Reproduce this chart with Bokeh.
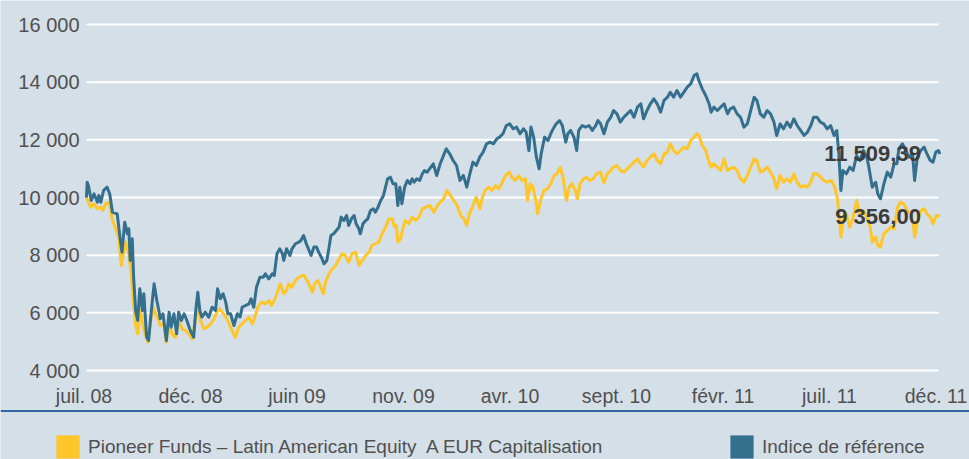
from bokeh.plotting import figure
from bokeh.models import Range1d, Legend, LegendItem, Span
from bokeh.embed import file_html
from bokeh.resources import INLINE
from bokeh.core.properties import value

# ---------------- data (x = days since 1 July 2008) ----------------
index_day = [
    0, 1, 3, 7, 11, 16, 18, 21, 25, 30,
    34, 38, 45, 49, 52, 56, 60, 62, 64, 67,
    69, 72, 75, 78, 82, 84, 88, 91, 95, 99,
    103, 106, 108, 112, 117, 121, 124, 128, 132, 135,
    139, 143, 147, 152, 157, 160, 163, 166, 169, 174,
    179, 184, 189, 192, 196, 200, 204, 207, 211, 216,
    221, 225, 228, 233, 238, 241, 245, 249, 254,
    259, 262, 267, 272, 275, 279, 283, 287, 289, 293,
    298, 301, 306, 311, 314, 318, 322, 326, 329, 333,
    337, 340, 344, 348, 352, 355, 358, 362, 366, 370,
    373, 377, 381, 384, 388, 392, 395, 399, 401, 405,
    409, 412, 416, 420, 423, 427, 431, 435, 438, 441,
    445, 449, 453, 456, 459, 462, 466, 470, 474, 477,
    480, 484, 488, 492, 495, 499,
    508, 513, 518, 522, 527, 532, 537, 542, 547, 552,
    557, 561, 566, 571, 576, 581, 586, 591, 596, 601,
    605, 610, 615, 620, 625, 630, 635, 640, 644, 648,
    651, 655, 659, 663, 666, 671, 676, 681, 685, 688,
    693, 697, 702, 705, 709, 714, 718, 721, 726, 731,
    736, 741, 746, 749, 753,
    758, 763, 768, 772, 777, 782, 787, 792, 797, 802,
    807, 812, 816, 821, 826, 831, 836, 841, 846, 851,
    855, 860, 865, 870, 875, 880, 885, 890, 894, 897,
    902, 907, 912, 915, 919, 924, 929, 934, 939, 943,
    948, 953, 958, 963, 968, 973, 978, 982, 987, 992,
    997, 1002,
    1007, 1011, 1016, 1021, 1026, 1031, 1036, 1041, 1046, 1051,
    1056, 1061, 1065, 1070, 1075, 1080, 1085, 1090, 1095, 1099,
    1102, 1105, 1108, 1113, 1118, 1123, 1128, 1133, 1138, 1143,
    1146, 1151, 1156, 1159, 1163, 1168, 1173, 1178, 1183, 1187,
    1190, 1195, 1200, 1205, 1210, 1213, 1217, 1222, 1227, 1231,
    1236, 1240, 1244, 1248, 1250,
]
index_val = [
    10000, 10531, 10400, 9896, 10128, 9837, 10070, 9837, 10243, 10358,
    10128, 9491, 9434, 8625, 8105, 9144, 8741, 8914, 7816, 8568,
    7237, 6082, 5735, 6834, 6082, 6661, 5156, 5041, 6082, 7005,
    6429, 6082, 5794, 5967, 5041, 6024, 5503, 5967, 5273, 6024,
    5735, 5967, 5735, 5388, 5156, 6082, 6717, 6082, 5850, 6024,
    5850, 6196, 6082, 6834, 6487, 6661, 6371, 5967, 5967, 5561,
    5967, 5850, 6196, 6255, 6312, 6487, 6196, 6890, 7237,
    7237, 7353, 7180, 7353, 7295, 8048, 8221, 8048, 7816, 8221,
    7990, 8221, 8395, 8453, 8509, 8683, 8395, 8163, 7990, 8279,
    8279, 8105, 7930, 7700, 7816, 8221, 8683, 8741, 8856, 8972,
    9319, 9203, 9376, 9030, 9261, 9376, 9088, 8914, 8741, 9088,
    9203, 9261, 9549, 9607, 9491, 9665, 9896, 10070, 10358, 10649,
    10705, 10476, 10476, 9723, 10358, 9781, 10358, 10590, 10476, 10649,
    10533, 10649, 10590, 10822, 10937, 10879,
    11168, 10763, 11168, 11398, 11689, 11516, 11284, 11110, 10590, 10765,
    10358, 10765, 11226, 11110, 11398, 11573, 11863, 11920, 11863, 12036,
    12094, 12210, 12497, 12556, 12382, 12441, 12210, 12382, 12267, 11630,
    12441, 12094, 11398, 10996, 11516, 12094, 11978, 12267, 12441, 12556,
    12671, 12497, 11920, 12210, 12325, 12094, 11630, 12325, 12497, 12441,
    12497, 12325, 12497, 12671, 12556,
    12210, 12613, 12785, 13018, 12902, 12613, 12785, 12902, 13018, 12785,
    13133, 13250, 12729, 13018, 13250, 13423, 13250, 12960, 13366, 13480,
    13652, 13480, 13711, 13480, 13652, 13826, 13943, 14231, 14290, 14057,
    13769, 13538, 13250, 12960, 13133, 13018, 13133, 13250, 12902, 13075,
    13133, 12902, 12785, 12439, 12556, 13018, 13480, 13366, 12902, 12785,
    13018, 12902,
    12612, 12150, 12555, 12380, 12612, 12438, 12730, 12497, 12325, 12150,
    12267, 12497, 12786, 12786, 12612, 12555, 12380, 12497, 12150, 12325,
    11516, 10243, 10937, 10822, 11052, 10937, 11457, 11284, 11630, 11400,
    11052, 10358, 10530, 10128, 9955, 10476, 10880, 10705, 11168, 11168,
    11689, 11863, 11630, 11400, 11516, 10590, 11400, 11630, 11746, 11516,
    11284, 11226, 11573, 11630, 11509.39,
]

fund_day = [
    0, 6, 11, 16, 21, 24, 28, 33, 38, 42,
    47, 51, 54, 57, 62, 65, 69, 72, 75, 79,
    83, 86, 90, 94, 98, 101, 104, 108, 113, 117,
    121, 125, 130, 135, 140, 145, 150, 155, 160, 163,
    167, 172, 177, 182, 187, 191, 195, 199, 204, 208,
    213, 218, 223, 228, 233, 238, 243, 248, 251, 254,
    257, 262, 267, 271, 275, 279, 284, 289, 293, 296,
    301, 306, 311, 316, 319, 323, 328, 331, 334, 339,
    343, 347, 350, 355, 360, 365, 370, 374, 379, 384,
    389, 394, 399, 404, 409, 414, 418, 423, 428, 433,
    438, 443, 448, 451, 454, 456, 460, 464, 467, 472,
    477, 482, 487, 492, 497, 503,
    509, 514, 518, 523, 528, 533, 538, 543, 548, 553,
    557, 561, 566, 571, 576, 580, 584, 589, 594, 599,
    604, 609, 614, 619, 623, 628, 633, 638, 643, 646,
    650, 654, 658, 661, 665, 670, 675, 680, 685, 689,
    694, 698, 703, 707, 711, 716, 719, 723, 728, 732,
    737, 742, 747, 753,
    758, 763, 768, 772, 777, 782, 787, 792, 797, 802,
    807, 812, 816, 821, 826, 831, 836, 841, 846, 851,
    855, 860, 865, 870, 875, 880, 885, 890, 894, 897,
    902, 907, 912, 915, 919, 924, 929, 934, 939, 943,
    948, 953, 958, 963, 968, 973, 978, 982, 987, 992,
    997, 1002,
    1006, 1011, 1016, 1021, 1026, 1031, 1036, 1041, 1046, 1051,
    1056, 1061, 1065, 1070, 1075, 1080, 1085, 1091, 1096, 1100,
    1103, 1105, 1108, 1113, 1118, 1123, 1128, 1133, 1138, 1143,
    1148, 1151, 1156, 1159, 1163, 1168, 1173, 1178, 1183, 1188,
    1192, 1197, 1202, 1207, 1211, 1213, 1217, 1222, 1227, 1231,
    1236, 1240, 1245, 1250,
]
fund_val = [
    10000, 9665, 9780, 9607, 9665, 9549, 9780, 9837, 9203, 8972,
    8625, 7642, 8048, 8451, 8048, 7469, 6313, 5561, 5273, 6082,
    5503, 5273, 4983, 5735, 6196, 5967, 5850, 5561, 5619, 4983,
    5735, 5273, 5156, 5735, 5445, 5388, 5273, 5099, 5850, 6140,
    5735, 5445, 5503, 5619, 5794, 6024, 6140, 6024, 5850, 5677,
    5388, 5156, 5503, 5619, 5735, 5850, 5619, 5967, 6196, 6312,
    6371, 6312, 6429, 6255, 6429, 6661, 7008, 6661, 6775, 7008,
    6890, 7122, 7237, 7295, 7295, 7122, 6890, 6718, 7008, 7122,
    6890, 6661, 7065, 7353, 7527, 7642, 7874, 8048, 7990, 7757,
    8048, 8105, 7642, 7816, 7990, 8105, 8337, 8395, 8453, 8741,
    8972, 9261, 9261, 8972, 9030, 8453, 8567, 8972, 9203, 9088,
    9319, 9203, 9319, 9607, 9665, 9723,
    9491, 9723, 9838, 9954, 10243, 10070, 9896, 9723, 9376, 9260,
    9030, 9434, 9723, 10011, 9607, 10011, 10243, 10358, 10243, 10417,
    10301, 10531, 10763, 10880, 10705, 10590, 10763, 10590, 10649, 9896,
    10476, 10358, 9896, 9434, 9896, 10243, 10301, 10476, 10763, 10822,
    11052, 10705, 9896, 10358, 10476, 10243, 9954, 10476, 10649, 10705,
    10590, 10649, 10822, 10880,
    10500, 10822, 10937, 11052, 11110, 10937, 10880, 10995, 11110, 11226,
    11341, 11168, 11052, 11284, 11398, 11516, 11284, 11168, 11516, 11573,
    11863, 11630, 11516, 11630, 11746, 11689, 11977, 12094, 12210, 12152,
    11804, 11630, 11226, 11052, 11168, 11052, 10937, 11341, 10937, 10995,
    11052, 10937, 10649, 10533, 10765, 11052, 11341, 11284, 10880, 10937,
    11052, 10880,
    10705, 10302, 10765, 10530, 10650, 10530, 10822, 10530, 10358, 10417,
    10358, 10530, 10822, 10822, 10705, 10590, 10530, 10590, 10358, 9955,
    9203, 8625, 9203, 9435, 8972, 9320, 9896, 9435, 9550, 9320,
    8972, 8451, 8625, 8336, 8278, 8740, 8856, 8972, 8915, 9665,
    9838, 9780, 9550, 9435, 9088, 8625, 9145, 9550, 9608, 9435,
    9320, 9088, 9377, 9356.00,
]

month_ticks = [0, 156, 312, 468, 624, 780, 936, 1092, 1248]
month_labels = ["juil. 08", "déc. 08", "juin 09", "nov. 09", "avr. 10",
                "sept. 10", "févr. 11", "juil. 11", "déc. 11"]
value_ticks = [4000, 6000, 8000, 10000, 12000, 14000, 16000]

fund_name = "Pioneer Funds – Latin American Equity  A EUR Capitalisation"
index_name = "Indice de référence"

# ---------------- styles / geometry ----------------
BG = "#d5dfe7"
FUND_COLOR = "#ffc629"
INDEX_COLOR = "#356f8e"
RULE_COLOR = "#2e6aa1"
TEXT_COLOR = "#505050"
FONT = "Liberation Sans"
W, H = 969, 459

# pixel geometry of the chart area (the whole canvas is the frame)
GRID_LEFT, GRID_RIGHT = 86, 938       # x of first / last month tick
GRID_TOP, GRID_BOTTOM = 24, 370       # y of top / bottom value tick
px_per_day = (GRID_RIGHT - GRID_LEFT) / (month_ticks[-1] - month_ticks[0])
px_per_unit = (GRID_BOTTOM - GRID_TOP) / (value_ticks[-1] - value_ticks[0])
x_start = month_ticks[0] - GRID_LEFT / px_per_day
x_end = month_ticks[-1] + (W - GRID_RIGHT) / px_per_day
y_end = value_ticks[-1] + GRID_TOP / px_per_unit
y_start = value_ticks[0] - (H - GRID_BOTTOM) / px_per_unit
rule_y = value_ticks[0] - (410.5 - GRID_BOTTOM) / px_per_unit


def fr_number(v):
    return f"{v:,.2f}".replace(",", " ").replace(".", ",")


p = figure(width=W, height=H, output_backend="svg", toolbar_location=None,
           x_range=Range1d(x_start, x_end), y_range=Range1d(y_start, y_end),
           x_axis_type=None, y_axis_type=None, min_border=0,
           background_fill_color=BG, border_fill_color=BG,
           outline_line_color=None)
p.grid.visible = False

# horizontal grid lines between first and last month
n = len(value_ticks)
p.segment(x0=[month_ticks[0]] * n, x1=[month_ticks[-1]] * n,
          y0=value_ticks, y1=value_ticks, line_color="white", line_width=2)

# value tick labels (left of the first month)
p.text(x=[month_ticks[0]] * n, y=value_ticks,
       text=[f"{t:,}".replace(",", " ") for t in value_ticks],
       text_font=value(FONT), text_font_size="20px", text_color=TEXT_COLOR,
       text_align="right", text_baseline="middle", x_offset=-7)

# month tick labels (below the lowest grid line)
m = len(month_ticks)
p.text(x=month_ticks, y=[value_ticks[0]] * m, text=month_labels,
       text_font=value(FONT), text_font_size="19.5px", text_color=TEXT_COLOR,
       text_align="center", text_baseline="middle", x_offset=-2.5,
       y_offset=25)

# series
p.line(fund_day, fund_val, line_color=FUND_COLOR, line_width=3, line_join="round")
p.line(index_day, index_val, line_color=INDEX_COLOR, line_width=3, line_join="round")

# end values
p.text(x=[index_day[-1], fund_day[-1]], y=[index_val[-1], fund_val[-1]],
       text=[fr_number(index_val[-1]), fr_number(fund_val[-1])],
       text_font=value(FONT), text_font_style="bold", text_font_size="22px",
       text_color="#3c3c3c", text_align="right", text_baseline="middle",
       x_offset=-19)

# separator rule under the month labels
p.add_layout(Span(location=rule_y, dimension="width", line_color=RULE_COLOR,
                  line_width=2))

# legend swatches (renderers without visible data)
nan = float("nan")
r_fund = p.quad(left=[nan], right=[nan], top=[nan], bottom=[nan],
                fill_color=FUND_COLOR, line_color=None)
r_index = p.quad(left=[nan], right=[nan], top=[nan], bottom=[nan],
                 fill_color=INDEX_COLOR, line_color=None)

for label, rend, loc in ((fund_name, r_fund, (53, -2)),
                         (index_name, r_index, (727, -2))):
    leg = Legend(items=[LegendItem(label=label, renderers=[rend])],
                 location=loc, padding=0, margin=0, spacing=0,
                 glyph_width=29, glyph_height=29, label_standoff=6,
                 label_text_font=FONT, label_text_font_size="19px",
                 label_text_color=TEXT_COLOR, background_fill_alpha=0,
                 border_line_alpha=0)
    p.add_layout(leg)

open("out.html", "w").write(file_html(p, INLINE))
